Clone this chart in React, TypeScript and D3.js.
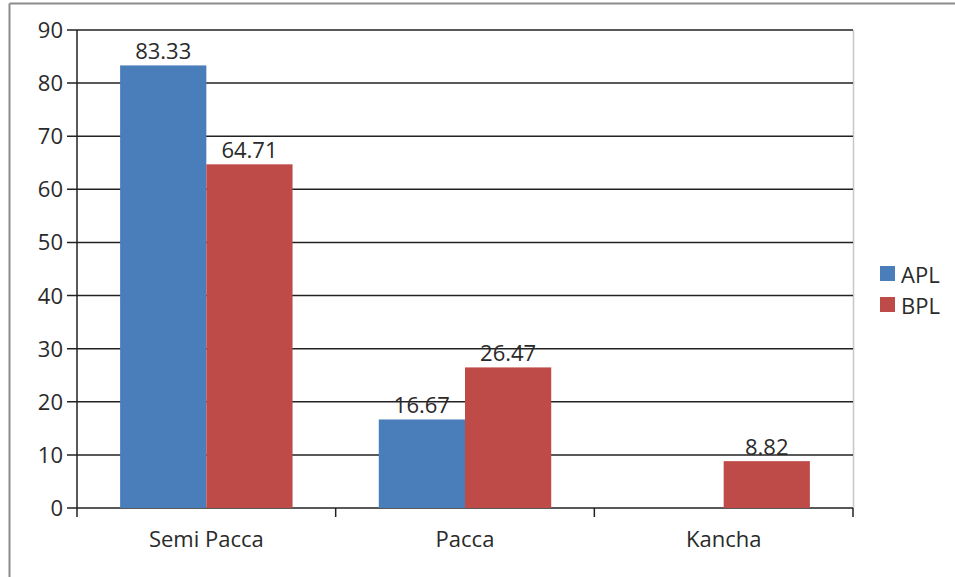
import React from "react";
import * as d3 from "d3";

const categories = ["Semi Pacca", "Pacca", "Kancha"];
const seriesNames = ["APL", "BPL"];
const aplValues = [83.33, 16.67, 0];
const bplValues = [64.71, 26.47, 8.82];
const yTicks = [0, 10, 20, 30, 40, 50, 60, 70, 80, 90];
const colors = ["#4a7ebb", "#be4b48"];

const W = 955, H = 577;
const left = 77, right = 853, top = 30, bottom = 508;
const font = "'Open Sans', sans-serif";
const fs = 22;

export default function App() {
  const x = d3.scaleBand<string>().domain(categories).range([left, right]).paddingInner(0).paddingOuter(0);
  const y = d3.scaleLinear().domain([0, 90]).range([bottom, top]);
  const bw = x.bandwidth() / 3;
  const series = [aplValues, bplValues];
  return (
    <svg width={W} height={H} style={{ position: "absolute", left: 0, top: 0 }}>
      <rect x={0} y={0} width={W} height={H} fill="#fff" />
      <line x1={9.5} y1={3.5} x2={W} y2={3.5} stroke="#8c8c8c" strokeWidth={2} />
      <line x1={9.5} y1={3.5} x2={9.5} y2={H} stroke="#8c8c8c" strokeWidth={2} />
      <line x1={right + 0.5} y1={top} x2={right + 0.5} y2={bottom} stroke="#c8c8c8" strokeWidth={1.5} />
      {yTicks.map((t) => (
        <g key={t}>
          <line x1={left - 10} x2={right} y1={y(t)} y2={y(t)} stroke="#222" strokeWidth={1.5} />
          <text x={63} y={y(t) + 8} textAnchor="end" fontSize={fs} fill="#2a2a2a" fontFamily={font}>{t}</text>
        </g>
      ))}
      {categories.map((c, i) => (
        <g key={c}>
          {series.map((vals, s) => {
            const v = vals[i];
            if (!v) return null;
            const bx = (x(c) as number) + bw / 2 + s * bw;
            return (
              <g key={s}>
                <rect x={bx} y={y(v)} width={bw} height={bottom - y(v)} fill={colors[s]} />
                <text x={bx + bw / 2} y={y(v) - 6} textAnchor="middle" fontSize={fs} fill="#2a2a2a" fontFamily={font}>{v.toFixed(2)}</text>
              </g>
            );
          })}
          <text x={(x(c) as number) + x.bandwidth() / 2} y={547} textAnchor="middle" fontSize={fs} fill="#2a2a2a" fontFamily={font}>{c}</text>
        </g>
      ))}
      <line x1={left} x2={left} y1={top} y2={bottom} stroke="#222" strokeWidth={1.5} />
      {[...categories.map((c) => x(c) as number), right].map((px, i) => (
        <line key={i} x1={px} x2={px} y1={bottom} y2={bottom + 9} stroke="#222" strokeWidth={1.5} />
      ))}
      {seriesNames.map((n, i) => (
        <g key={n}>
          <rect x={880} y={266 + i * 31} width={15} height={15} fill={colors[i]} />
          <text x={901} y={283 + i * 31} fontSize={fs} fill="#2a2a2a" fontFamily={font}>{n}</text>
        </g>
      ))}
    </svg>
  );
}
